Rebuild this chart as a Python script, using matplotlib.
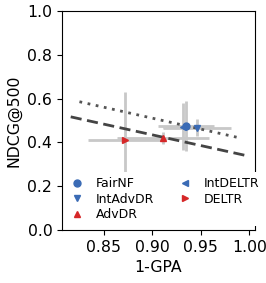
import numpy as np
import matplotlib
matplotlib.use("Agg")
import matplotlib.pyplot as plt

# metodos y resultados (1-GPA vs NDCG@500)
metodos = ["FairNF", "IntAdvDR", "AdvDR", "IntDELTR", "DELTR"]
gpa = [0.9345, 0.9460, 0.9110, 0.9315, 0.8715]
gpa_err = [0.029, 0.035, 0.047, 0.020, 0.038]
ndcg = [0.476, 0.468, 0.421, 0.472, 0.411]
ndcg_err = [0.114, 0.040, 0.027, 0.107, 0.219]

marcadores = ["o", "v", "^", "<", ">"]
colores = ["#3a6bb5", "#3a6bb5", "#d62728", "#3a6bb5", "#d62728"]

# lineas de tendencia (extremos)
punteada_x = [0.825, 0.990]
punteada_y = [0.586, 0.421]
discontinua_x = [0.816, 0.999]
discontinua_y = [0.517, 0.338]

fig = plt.figure(figsize=(2.66, 2.83), dpi=100)
ax = fig.add_axes([0.233, 0.187, 0.726, 0.774])

for i in range(len(metodos)):
    ax.errorbar(gpa[i], ndcg[i], xerr=gpa_err[i], yerr=ndcg_err[i],
                fmt="none", ecolor="#c8c8c8", elinewidth=2, zorder=1)
for i in range(len(metodos)):
    ax.plot(gpa[i], ndcg[i], linestyle="none", marker=marcadores[i],
            color=colores[i], markersize=5, label=metodos[i], zorder=3)

ax.plot(punteada_x, punteada_y, linestyle=(0, (1, 2)), color="#555555",
        linewidth=2, zorder=2)
ax.plot(discontinua_x, discontinua_y, linestyle=(0, (4, 2)), color="#444444",
        linewidth=2, zorder=2)

ax.set_xlim(0.807, 1.006)
ax.set_ylim(0.0, 1.0)
ax.set_xticks([0.85, 0.90, 0.95, 1.00])
ax.set_yticks([0.0, 0.2, 0.4, 0.6, 0.8, 1.0])
ax.tick_params(labelsize=11.3)
ax.set_xlabel("1-GPA", fontsize=11.3)
ax.set_ylabel("NDCG@500", fontsize=11.3)

leg = ax.legend(loc="lower left", ncol=2, fontsize=9, frameon=True,
                handlelength=1.0, handletextpad=1.0, columnspacing=2.0,
                labelspacing=0.2, borderaxespad=0.3, framealpha=1.0)
leg.get_frame().set_edgecolor("none")
leg.set_zorder(5)

fig.savefig("out.png", dpi=100)
